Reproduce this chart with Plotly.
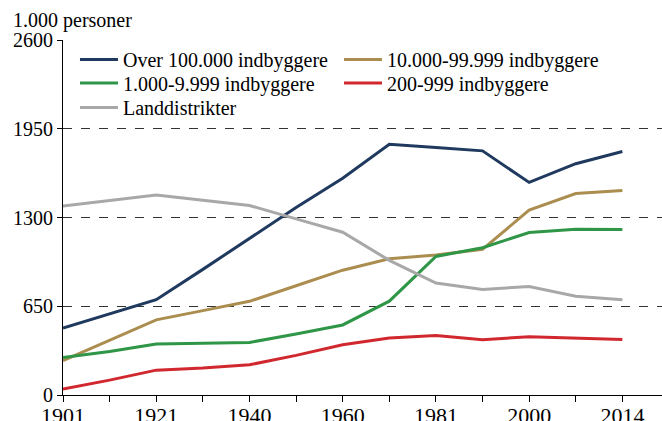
import plotly.graph_objects as go

years = ["1901", "1911", "1921", "1930", "1940", "1950", "1960", "1970", "1981", "1990", "2000", "2010", "2014"]
tick_labels = ["1901", "", "1921", "", "1940", "", "1960", "", "1981", "", "2000", "", "2014"]

over_100000 = [490, 594, 698, 920, 1146, 1373, 1588, 1837, 1812, 1788, 1557, 1694, 1783]
k10_99999 = [251, 398, 550, 618, 686, 800, 914, 998, 1025, 1067, 1354, 1476, 1498]
k1_9999 = [275, 319, 373, 378, 385, 447, 513, 687, 1015, 1079, 1190, 1214, 1212]
h200_999 = [43, 109, 182, 197, 221, 290, 368, 418, 435, 405, 427, 415, 407]
landdistrikter = [1385, 1422, 1464, 1427, 1388, 1290, 1192, 986, 820, 773, 795, 724, 697]

series = [
    ("Over 100.000 indbyggere", over_100000, "#1f3a5e", "legend"),
    ("10.000-99.999 indbyggere", k10_99999, "#ab8d4f", "legend"),
    ("1.000-9.999 indbyggere", k1_9999, "#2e9646", "legend2"),
    ("200-999 indbyggere", h200_999, "#d0282e", "legend2"),
    ("Landdistrikter", landdistrikter, "#a8a8a8", "legend3"),
]

FONT = "Liberation Serif, Times New Roman, serif"
idx = list(range(len(years)))

fig = go.Figure()
for name, vals, col, leg in series:
    fig.add_trace(go.Scatter(x=idx, y=vals, name=name, mode="lines", legend=leg,
                             line=dict(color=col, width=3)))

H = 355.0
def legend_at(yc):
    return dict(orientation="h", x=0.02, y=1 - (yc - 40) / H, xanchor="left", yanchor="middle",
                entrywidth=211, entrywidthmode="pixels", bgcolor="rgba(0,0,0,0)",
                font=dict(family=FONT, size=20), traceorder="normal", itemwidth=38)

fig.update_layout(
    width=662, height=421,
    margin=dict(l=63, r=0, t=40, b=26, autoexpand=False),
    paper_bgcolor="white", plot_bgcolor="white",
    font=dict(family=FONT, size=20, color="black"),
    showlegend=True,
    legend=legend_at(59.5),
    legend2=legend_at(83),
    legend3=legend_at(107.5),
    xaxis=dict(range=[0, 12.85], tickmode="array", tickvals=idx, ticktext=tick_labels,
               automargin=False, ticklabelstandoff=-5,
               showgrid=False, zeroline=False, showline=True, linecolor="black", linewidth=1,
               ticks="outside", ticklen=6, tickcolor="black", tickfont=dict(size=22)),
    yaxis=dict(range=[0, 2600], tickmode="array", tickvals=[0, 650, 1300, 1950, 2600],
               ticktext=["0", "650", "1300", "1950", "2600"], automargin=False,
               showgrid=True, gridcolor="#333333", griddash="dash", gridwidth=1,
               zeroline=False, showline=True, linecolor="black", linewidth=1,
               ticks="outside", ticklen=5, tickcolor="black", tickfont=dict(size=20)),
    annotations=[dict(text="1.000 personer", xref="paper", yref="paper", x=-63/599, y=1,
                      xanchor="left", yanchor="bottom", xshift=11, yshift=6, showarrow=False,
                      font=dict(family=FONT, size=20))],
)

fig.write_html("out.html", config={"displayModeBar": False},
               post_script="document.body.style.margin='0';")
